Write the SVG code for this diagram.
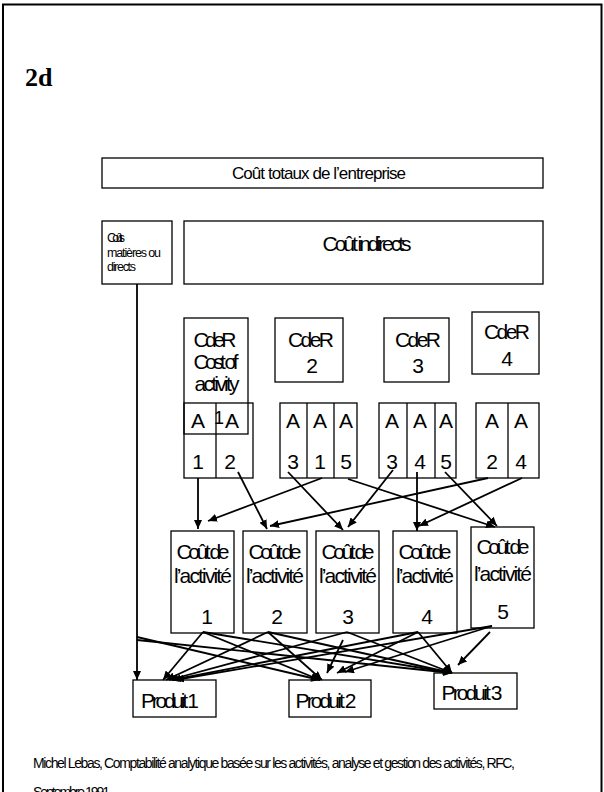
<svg xmlns="http://www.w3.org/2000/svg" width="604" height="792" viewBox="0 0 604 792">
  <style>
    .box { fill: #fff; stroke: #000; stroke-width: 1.3; }
    .open { fill: none; stroke: #000; stroke-width: 1.3; }
    .t { font-family: "Liberation Sans", Arial, sans-serif; fill: #000; }
    .c { text-anchor: middle; }
    .big { font-size: 21px; }
    .conn path { fill: none; stroke: #000; stroke-width: 1.8; marker-end: url(#arrow); }
  </style>
  <defs>
    <marker id="arrow" markerUnits="userSpaceOnUse" markerWidth="10" markerHeight="8" refX="9" refY="4" orient="auto">
      <path d="M0,0 L9,4 L0,8 Z" fill="#000"/>
    </marker>
  </defs>

  <rect x="0" y="0" width="604" height="792" fill="#fff"/>
  <!-- page frame -->
  <rect x="3" y="4.5" width="598.5" height="800" fill="none" stroke="#000" stroke-width="2"/>

  <text x="25" y="86" font-family="Liberation Serif, Times New Roman, serif" font-weight="bold" font-size="26">2d</text>

  <g id="total">
    <rect class="box" x="102" y="158" width="441" height="30"/>
    <text class="t c" x="319" y="179" font-size="17" textLength="174">Coût totaux de l’entreprise</text>
  </g>

  <g id="direct">
    <rect class="box" x="102" y="221" width="70" height="63"/>
    <text class="t" x="107" y="242" font-size="12.5" textLength="18">Coûts</text>
    <text class="t" x="107" y="257" font-size="12.5" textLength="54">matières ou</text>
    <text class="t" x="107" y="271" font-size="12.5" textLength="29">directs</text>
  </g>

  <g id="indirect">
    <rect class="box" x="184" y="221" width="359" height="63"/>
    <text class="t c big" x="367" y="251" textLength="89">Coût indirects</text>
  </g>

  <!-- cost centres -->
  <g id="cder1">
    <rect class="open" x="184" y="318" width="64" height="116"/>
    <text class="t c big" x="215" y="347" textLength="43">CdeR</text>
    <text class="t c big" x="216" y="369" textLength="45">Cost of</text>
    <text class="t c big" x="217" y="391" textLength="45">activity</text>
    <text class="t c" x="219" y="424" font-size="18">1</text>
  </g>
  <g id="cder2">
    <rect class="box" x="275" y="318" width="68" height="64"/>
    <text class="t c big" x="311" y="347" textLength="46">CdeR</text>
    <text class="t c big" x="312" y="373">2</text>
  </g>
  <g id="cder3">
    <rect class="box" x="384" y="318" width="65" height="64"/>
    <text class="t c big" x="418" y="347" textLength="46">CdeR</text>
    <text class="t c big" x="418" y="373">3</text>
  </g>
  <g id="cder4">
    <rect class="box" x="472" y="312" width="67" height="62"/>
    <text class="t c big" x="507" y="339" textLength="46">CdeR</text>
    <text class="t c big" x="507" y="366">4</text>
  </g>

  <!-- activity columns per cost centre -->
  <g id="acts1">
    <rect class="open" x="184" y="403" width="69" height="75"/>
    <line x1="216" y1="403" x2="216" y2="478" stroke="#000" stroke-width="1.3"/>
    <text class="t c big" x="198" y="428">A</text>
    <text class="t c big" x="232" y="428">A</text>
    <text class="t c big" x="198" y="469">1</text>
    <text class="t c big" x="230" y="469">2</text>
  </g>
  <g id="acts2">
    <rect class="box" x="280" y="403" width="77" height="75"/>
    <line x1="307" y1="403" x2="307" y2="478" stroke="#000" stroke-width="1.3"/>
    <line x1="334" y1="403" x2="334" y2="478" stroke="#000" stroke-width="1.3"/>
    <text class="t c big" x="293" y="428">A</text>
    <text class="t c big" x="320" y="428">A</text>
    <text class="t c big" x="346" y="428">A</text>
    <text class="t c big" x="293" y="469">3</text>
    <text class="t c big" x="320" y="469">1</text>
    <text class="t c big" x="346" y="469">5</text>
  </g>
  <g id="acts3">
    <rect class="box" x="379" y="403" width="77" height="75"/>
    <line x1="407" y1="403" x2="407" y2="478" stroke="#000" stroke-width="1.3"/>
    <line x1="435" y1="403" x2="435" y2="478" stroke="#000" stroke-width="1.3"/>
    <text class="t c big" x="392" y="428">A</text>
    <text class="t c big" x="420" y="428">A</text>
    <text class="t c big" x="446" y="428">A</text>
    <text class="t c big" x="392" y="469">3</text>
    <text class="t c big" x="420" y="469">4</text>
    <text class="t c big" x="446" y="469">5</text>
  </g>
  <g id="acts4">
    <rect class="box" x="476" y="403" width="63" height="75"/>
    <line x1="508" y1="403" x2="508" y2="478" stroke="#000" stroke-width="1.3"/>
    <text class="t c big" x="492" y="428">A</text>
    <text class="t c big" x="521" y="428">A</text>
    <text class="t c big" x="492" y="469">2</text>
    <text class="t c big" x="521" y="469">4</text>
  </g>

  <!-- activity cost pools -->
  <g id="activity1">
    <rect class="box" x="171" y="531" width="63" height="102"/>
    <text class="t c big" x="203" y="559" textLength="53">Coût de</text>
    <text class="t c big" x="203" y="583" textLength="58">l’activité</text>
    <text class="t c big" x="207" y="624">1</text>
  </g>
  <g id="activity2">
    <rect class="box" x="243" y="531" width="64" height="102"/>
    <text class="t c big" x="275" y="559" textLength="53">Coût de</text>
    <text class="t c big" x="275" y="583" textLength="58">l’activité</text>
    <text class="t c big" x="277" y="624">2</text>
  </g>
  <g id="activity3">
    <rect class="box" x="316" y="531" width="63" height="102"/>
    <text class="t c big" x="348" y="559" textLength="53">Coût de</text>
    <text class="t c big" x="348" y="583" textLength="58">l’activité</text>
    <text class="t c big" x="348" y="624">3</text>
  </g>
  <g id="activity4">
    <rect class="box" x="393" y="531" width="64" height="102"/>
    <text class="t c big" x="425" y="559" textLength="53">Coût de</text>
    <text class="t c big" x="425" y="583" textLength="58">l’activité</text>
    <text class="t c big" x="427" y="624">4</text>
  </g>
  <g id="activity5">
    <rect class="box" x="471" y="527" width="63" height="101"/>
    <text class="t c big" x="503" y="554" textLength="53">Coût de</text>
    <text class="t c big" x="503" y="581" textLength="58">l’activité</text>
    <text class="t c big" x="503" y="619">5</text>
  </g>

  <!-- products -->
  <g id="produit1">
    <rect class="box" x="133" y="680" width="83" height="37"/>
    <text class="t c big" x="170" y="708" textLength="58">Produit 1</text>
  </g>
  <g id="produit2">
    <rect class="box" x="289" y="680" width="82" height="37"/>
    <text class="t c big" x="326" y="708" textLength="61">Produit 2</text>
  </g>
  <g id="produit3">
    <rect class="box" x="434" y="673" width="83" height="36"/>
    <text class="t c big" x="472" y="700" textLength="61">Produit 3</text>
  </g>

  <g id="connectors" class="conn">
    <!-- direct costs -->
    <path d="M137,284 L137,680"/>
    <path d="M137,637 L320,680"/>
    <path d="M137,640 L452,673"/>
    <!-- activities to activity pools -->
    <path d="M198,478 L198,529"/>
    <path d="M238,472 L267,529"/>
    <path d="M288,472 L343,530"/>
    <path d="M322,478 L208,521"/>
    <path d="M348,479 L495,527"/>
    <path d="M393,470 L348,527"/>
    <path d="M417,472 L417,531"/>
    <path d="M445,472 L497,526"/>
    <path d="M488,478 L270,526"/>
    <path d="M522,478 L419,526"/>
    <!-- activity pools to products -->
    <path d="M203,632 L163,680"/>
    <path d="M203,632 L320,680"/>
    <path d="M203,632 L452,673"/>
    <path d="M268,632 L166,680"/>
    <path d="M268,632 L322,680"/>
    <path d="M268,632 L452,673"/>
    <path d="M347,632 L169,680"/>
    <path d="M343,640 L327,673"/>
    <path d="M347,632 L452,673"/>
    <path d="M418,632 L172,680"/>
    <path d="M418,632 L337,673"/>
    <path d="M418,632 L452,673"/>
    <path d="M492,626 L175,680"/>
    <path d="M492,626 L345,672"/>
    <path d="M490,632 L458,665"/>
  </g>

  <text class="t" x="33" y="768" font-size="14" textLength="482">Michel Lebas, Comptabilité analytique basée sur les activités, analyse et gestion des activités, RFC,</text>
  <text class="t" x="33" y="797" font-size="14" textLength="77">Septembre 1991</text>
</svg>
